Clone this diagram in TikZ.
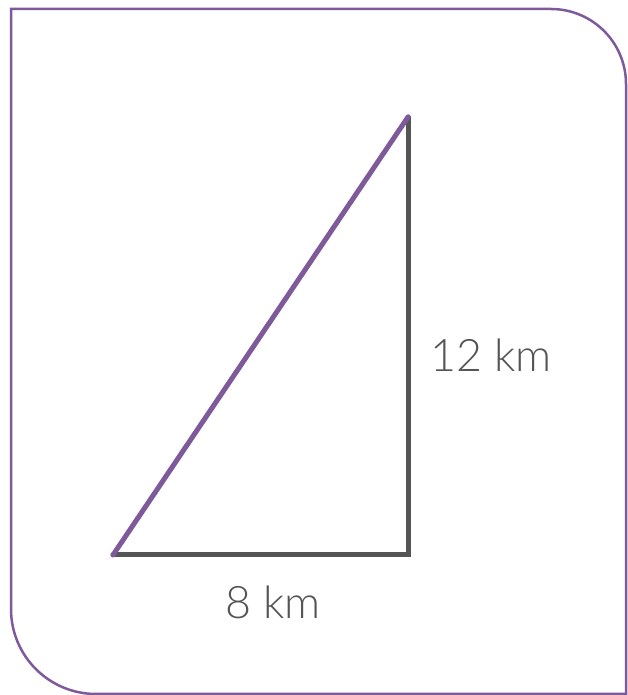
\documentclass[tikz,border=0pt]{standalone}
\usepackage{fontspec}
\setmainfont{Lato}[UprightFont={* Light}]
\usetikzlibrary{positioning}
\definecolor{framepurple}{HTML}{7E5A9B}
\definecolor{leggray}{HTML}{555555}
\begin{document}
\begin{tikzpicture}[
  x=1bp,y=1bp,
  frame/.style={draw=framepurple,line width=2.5bp},
  leg/.style={draw=leggray,line width=5bp,line cap=round},
  hyp/.style={draw=framepurple,line width=5bp,line cap=round},
  lbl/.style={text=leggray,font=\fontsize{45}{54}\selectfont,inner sep=0pt}]
\useasboundingbox (0,0) rectangle (628,695);
% outer frame
\draw[frame] (11,686) -- (551,686) arc[start angle=90,end angle=0,radius=75]
  -- (626,1) -- (96,1) arc[start angle=270,end angle=180,radius=85] -- cycle;
% triangle corners
\coordinate (A) at (113,140);
\coordinate (B) at (408,140);
\coordinate (C) at (408,578);
% legs and hypotenuse
\draw[leg] (A) -- (B) -- (C);
\draw[hyp] (A) -- (C);
% labels
\node[lbl] (ver) at (491,340) {12 km};
\node[lbl] (hor) at (273,93) {8 km};
\end{tikzpicture}
\end{document}
